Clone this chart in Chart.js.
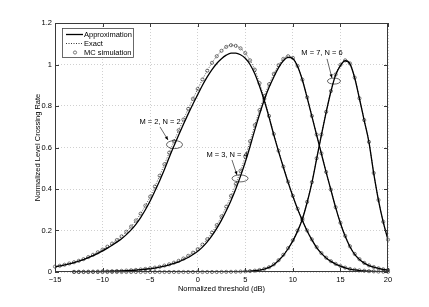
<!DOCTYPE html>
<html>
<head>
<meta charset="utf-8">
<script src="https://cdn.jsdelivr.net/npm/chart.js@4.4.0/dist/chart.umd.min.js"></script>
<style>
  html, body { margin: 0; padding: 0; background: #fff; }
  canvas { display: block; }
</style>
</head>
<body>
<canvas id="lcr" width="429" height="307"></canvas>
<script>
// threshold grid (dB)
var thresholds = [-15,-14.5,-14,-13.5,-13,-12.5,-12,-11.5,-11,-10.5,-10,-9.5,-9,-8.5,-8,-7.5,-7,-6.5,-6,-5.5,-5,-4.5,-4,-3.5,-3,-2.5,-2,-1.5,-1,-0.5,0,0.5,1,1.5,2,2.5,3,3.5,4,4.5,5,5.5,6,6.5,7,7.5,8,8.5,9,9.5,10,10.5,11,11.5,12,12.5,13,13.5,14,14.5,15,15.5,16,16.5,17,17.5,18,18.5,19,19.5,20];

// M = 2, N = 2
var approx22 = [0.025,0.029,0.034,0.039,0.045,0.052,0.06,0.069,0.079,0.09,0.102,0.115,0.129,0.144,0.16,0.18,0.203,0.23,0.262,0.3,0.342,0.39,0.44,0.494,0.552,0.607,0.66,0.712,0.762,0.81,0.855,0.9,0.94,0.975,1.005,1.028,1.045,1.055,1.055,1.047,1.03,1.0,0.955,0.895,0.825,0.745,0.66,0.58,0.505,0.432,0.365,0.303,0.248,0.198,0.155,0.118,0.09,0.068,0.051,0.038,0.028,0.02,0.014,0.01,0.007,0.005,0.0035,0.0025,0.0018,0.0012,0.0008];
var exact22 = [0.026,0.03,0.035,0.041,0.047,0.054,0.062,0.072,0.083,0.095,0.108,0.122,0.137,0.154,0.172,0.194,0.219,0.248,0.281,0.32,0.363,0.412,0.464,0.519,0.575,0.63,0.683,0.735,0.786,0.835,0.882,0.928,0.97,1.008,1.04,1.066,1.085,1.093,1.09,1.078,1.055,1.02,0.975,0.91,0.835,0.752,0.665,0.584,0.508,0.435,0.367,0.305,0.25,0.2,0.157,0.12,0.091,0.069,0.052,0.039,0.029,0.021,0.015,0.011,0.008,0.006,0.004,0.003,0.002,0.0014,0.001];

// M = 3, N = 4
var approx34 = [0.0003,0.0004,0.0005,0.0006,0.0007,0.0009,0.0011,0.0013,0.0016,0.002,0.0024,0.0029,0.0035,0.0042,0.0051,0.0062,0.0075,0.009,0.011,0.0133,0.016,0.019,0.023,0.028,0.034,0.041,0.049,0.059,0.07,0.084,0.1,0.12,0.145,0.175,0.21,0.25,0.295,0.345,0.4,0.462,0.53,0.605,0.685,0.76,0.83,0.89,0.94,0.985,1.018,1.034,1.028,0.99,0.925,0.84,0.75,0.66,0.57,0.48,0.395,0.31,0.235,0.172,0.122,0.085,0.06,0.043,0.031,0.023,0.017,0.012,0.009];
var exact34 = [0.0003,0.0004,0.0005,0.0006,0.0008,0.001,0.0012,0.0014,0.0018,0.0022,0.0027,0.0032,0.0039,0.0047,0.0057,0.0069,0.0083,0.01,0.0122,0.0148,0.0178,0.021,0.025,0.031,0.037,0.045,0.054,0.065,0.078,0.093,0.11,0.132,0.158,0.19,0.226,0.268,0.315,0.367,0.424,0.488,0.556,0.63,0.708,0.78,0.848,0.905,0.955,0.997,1.027,1.04,1.032,0.993,0.927,0.842,0.752,0.662,0.572,0.482,0.397,0.312,0.237,0.174,0.124,0.087,0.062,0.044,0.032,0.024,0.018,0.013,0.01];

// M = 7, N = 6
var approx76 = [0,0,0,0,0,0,0,0,0,0,0,0,0,0,0,0,0,0,0,0,0,0,0,0,0,0,0,0,0,0,0,0,0,0,0,0.0003,0.0005,0.0008,0.0012,0.0018,0.0027,0.004,0.006,0.009,0.014,0.022,0.035,0.055,0.08,0.112,0.15,0.197,0.255,0.335,0.43,0.545,0.66,0.77,0.87,0.95,0.995,1.018,1.003,0.935,0.835,0.73,0.625,0.475,0.345,0.24,0.155];
var exact76 = [0,0,0,0,0,0,0,0,0,0,0,0,0,0,0,0,0,0,0,0,0,0,0,0,0,0,0,0,0,0,0,0,0,0,0,0.0004,0.0006,0.0009,0.0013,0.002,0.003,0.0043,0.0064,0.0095,0.015,0.023,0.037,0.057,0.083,0.115,0.153,0.2,0.258,0.338,0.433,0.548,0.662,0.772,0.872,0.952,0.998,1.02,1.005,0.937,0.837,0.732,0.627,0.477,0.347,0.242,0.156];

// first threshold with an MC sample, per curve
var mcStart = [-15, -13, -13];

var xTicks = [-15, -10, -5, 0, 5, 10, 15, 20];
var yTicks = [0, 0.2, 0.4, 0.6, 0.8, 1, 1.2];

var legendNames = ['Approximation', 'Exact', 'MC simulation'];

// curve labels: text position, ellipse centre, arrow start/end (data units)
var curveNotes = [
    { text: 'M = 2, N = 2', tx: -3.96, ty: 0.723, ex: -2.44, ey: 0.614, ax: [-3.96, 0.699], ah: [-3.12, 0.636], rx: 8, ry: 4 },
    { text: 'M = 3, N = 4', tx: 3.08, ty: 0.564, ex: 4.45, ey: 0.451, ax: [3.6, 0.54], ah: [4.13, 0.467], rx: 8, ry: 3.5 },
    { text: 'M = 7, N = 6', tx: 13.06, ty: 1.055, ex: 14.32, ey: 0.92, ax: [13.59, 1.027], ah: [14.11, 0.935], rx: 6.5, ry: 3 }
];

var FONT = 'Liberation Sans, Arial, Helvetica, sans-serif';

function pts(ys, from) {
    var out = [];
    for (var i = 0; i < thresholds.length; i++) {
        if (from !== undefined && thresholds[i] < from) continue;
        out.push({ x: thresholds[i], y: ys[i] });
    }
    return out;
}

function approxSet(ys) {
    return { data: pts(ys), borderColor: '#000', borderWidth: 1.3, pointRadius: 0, fill: false,
             cubicInterpolationMode: 'monotone' };
}
function exactSet(ys) {
    return { data: pts(ys), borderColor: '#222', borderWidth: 0.8, borderDash: [1, 1.5], pointRadius: 0,
             fill: false, cubicInterpolationMode: 'monotone' };
}
function mcSet(ys, from) {
    return { data: pts(ys, from), showLine: false, pointRadius: 1.6, pointBorderWidth: 0.7,
             pointBorderColor: '#444', pointBackgroundColor: 'rgba(255,255,255,0)', clip: 4 };
}

var fmt = function (v) {
    return String(+Number(v).toFixed(1)).replace('-', '\u2212');
};

var framePlugin = {
    id: 'frame',
    afterDraw: function (chart) {
        var ctx = chart.ctx, a = chart.chartArea;
        var xs = chart.scales.x, ys = chart.scales.y;
        ctx.save();
        // box
        ctx.strokeStyle = '#3a3a3a';
        ctx.lineWidth = 1;
        ctx.strokeRect(Math.round(a.left) + 0.5, Math.round(a.top) + 0.5,
                       Math.round(a.right - a.left) - 1, Math.round(a.bottom - a.top) - 1);
        // inward ticks
        ctx.beginPath();
        xTicks.forEach(function (t) {
            var px = Math.round(xs.getPixelForValue(t)) + 0.5;
            ctx.moveTo(px, a.bottom); ctx.lineTo(px, a.bottom - 4);
            ctx.moveTo(px, a.top); ctx.lineTo(px, a.top + 4);
        });
        yTicks.forEach(function (t) {
            var py = Math.round(ys.getPixelForValue(t)) + 0.5;
            ctx.moveTo(a.left, py); ctx.lineTo(a.left + 4, py);
            ctx.moveTo(a.right, py); ctx.lineTo(a.right - 4, py);
        });
        ctx.stroke();

        // legend
        var lx = a.left + 7, ly = a.top + 5;
        ctx.fillStyle = '#fff';
        ctx.fillRect(lx, ly, 71, 29);
        ctx.strokeStyle = '#444';
        ctx.lineWidth = 0.8;
        ctx.strokeRect(lx + 0.5, ly + 0.5, 71, 29);
        ctx.font = '7.5px ' + FONT;
        ctx.fillStyle = '#000';
        ctx.textBaseline = 'middle';
        ctx.textAlign = 'left';
        var rows = [ly + 6.5, ly + 15.5, ly + 24.5];
        ctx.strokeStyle = '#000';
        ctx.lineWidth = 1.3;
        ctx.beginPath(); ctx.moveTo(lx + 4, rows[0]); ctx.lineTo(lx + 21, rows[0]); ctx.stroke();
        ctx.lineWidth = 0.8;
        ctx.setLineDash([1, 1.5]);
        ctx.beginPath(); ctx.moveTo(lx + 4, rows[1]); ctx.lineTo(lx + 21, rows[1]); ctx.stroke();
        ctx.setLineDash([]);
        ctx.lineWidth = 0.7;
        ctx.strokeStyle = '#444';
        ctx.beginPath(); ctx.arc(lx + 13, rows[2], 1.6, 0, Math.PI * 2); ctx.stroke();
        legendNames.forEach(function (n, i) { ctx.fillText(n, lx + 22, rows[i]); });

        // curve labels
        ctx.textAlign = 'center';
        curveNotes.forEach(function (c) {
            ctx.fillStyle = '#000';
            ctx.fillText(c.text, xs.getPixelForValue(c.tx), ys.getPixelForValue(c.ty));
            var ex = xs.getPixelForValue(c.ex), ey = ys.getPixelForValue(c.ey);
            ctx.strokeStyle = '#000';
            ctx.lineWidth = 0.6;
            ctx.beginPath(); ctx.ellipse(ex, ey, c.rx, c.ry, 0, 0, Math.PI * 2); ctx.stroke();
            var x0 = xs.getPixelForValue(c.ax[0]), y0 = ys.getPixelForValue(c.ax[1]);
            var x1 = xs.getPixelForValue(c.ah[0]), y1 = ys.getPixelForValue(c.ah[1]);
            ctx.beginPath(); ctx.moveTo(x0, y0); ctx.lineTo(x1, y1); ctx.stroke();
            var ang = Math.atan2(y1 - y0, x1 - x0);
            ctx.beginPath();
            ctx.moveTo(x1, y1);
            ctx.lineTo(x1 - 4 * Math.cos(ang - 0.4), y1 - 4 * Math.sin(ang - 0.4));
            ctx.lineTo(x1 - 4 * Math.cos(ang + 0.4), y1 - 4 * Math.sin(ang + 0.4));
            ctx.closePath();
            ctx.fill();
        });
        ctx.restore();
    }
};

var ctx = document.getElementById('lcr').getContext('2d');
var chart = new Chart(ctx, {
    type: 'line',
    data: {
        datasets: [
            approxSet(approx22), approxSet(approx34), approxSet(approx76),
            exactSet(exact22), exactSet(exact34), exactSet(exact76),
            mcSet(exact22, mcStart[0]), mcSet(exact34, mcStart[1]), mcSet(exact76, mcStart[2])
        ]
    },
    options: {
        responsive: false,
        animation: false,
        layout: { padding: { left: 0, right: 41, top: 23, bottom: 0 } },
        plugins: { legend: { display: false }, tooltip: { enabled: false } },
        scales: {
            x: {
                type: 'linear', min: -15, max: 20,
                afterFit: function (s) { s.height = 35; },
                afterBuildTicks: function (s) { s.ticks = xTicks.map(function (v) { return { value: v }; }); },
                ticks: { color: '#000', padding: 3, font: { family: FONT, size: 7.5 }, callback: fmt, maxRotation: 0 },
                grid: { color: '#c4c4c4', lineWidth: 0.8, drawTicks: false },
                border: { display: false, dash: [1, 2] },
                title: { display: true, text: 'Normalized threshold (dB)', color: '#000',
                         font: { family: FONT, size: 7.5 }, padding: { top: 0, bottom: 14 } }
            },
            y: {
                type: 'linear', min: 0, max: 1.2,
                afterFit: function (s) { s.width = 55; },
                afterBuildTicks: function (s) { s.ticks = yTicks.map(function (v) { return { value: v }; }); },
                ticks: { color: '#000', padding: 3, font: { family: FONT, size: 7.5 }, callback: fmt },
                grid: { color: '#c4c4c4', lineWidth: 0.8, drawTicks: false },
                border: { display: false, dash: [1, 2] },
                title: { display: true, text: 'Normalized Level Crossing Rate', color: '#000',
                         font: { family: FONT, size: 7.5 }, padding: { top: 33, bottom: 0 } }
            }
        }
    },
    plugins: [framePlugin]
});
</script>
</body>
</html>
